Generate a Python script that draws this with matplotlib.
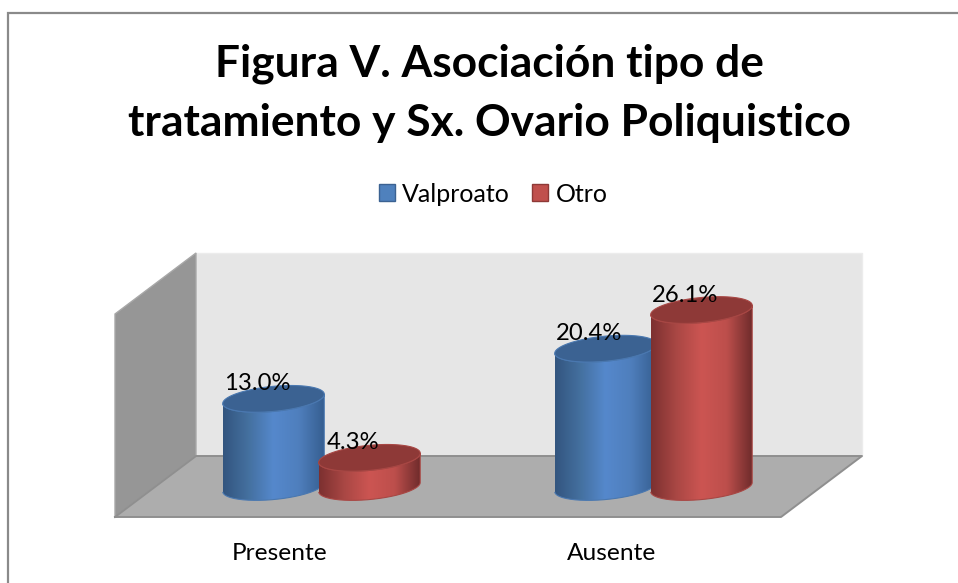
#!/usr/bin/env python3
"""Figura V: cylinders drawn by hand, matplotlib has no Excel-style 3D columns."""
import numpy as np
import matplotlib
matplotlib.use("Agg")
import matplotlib.pyplot as plt
from matplotlib.colors import LinearSegmentedColormap
from matplotlib.patches import Patch, PathPatch, Polygon
from matplotlib.path import Path

categories = ["Presente", "Ausente"]
series_names = ["Valproato", "Otro"]
valproato = [13.0, 20.4]
otro = [4.3, 26.1]
title_lines = ["Figura V. Asociación tipo de", "tratamiento y Sx. Ovario Poliquistico"]

W, H = 958, 583
PX_PER_PCT = 6.78    # pixels per percentage point
PX_PER_CAT = 332.0   # pixels between the two groups
X0_PX, Y0_PX = 321.5, 487.0   # pixel position of group 0, value 0
COL_W = 0.304        # column width, in category units
COL_OFF = 0.1445     # column offset from group centre
TILT = np.deg2rad(-5.5)
RX, RY = 51.0, 12.5  # ellipse radii in pixels

plt.rcParams["font.family"] = ["Lato", "DejaVu Sans"]

fig = plt.figure(figsize=(W / 100, H / 100), dpi=100, facecolor="white")

# background in pixel coordinates: frame and walls
bg = fig.add_axes([0, 0, 1, 1])
bg.set_xlim(0, W)
bg.set_ylim(H, 0)
bg.axis("off")
bg.plot([8.5, 8.5, W], [H, 12.5, 12.5], color="#8a8a8a", lw=1.6, solid_joinstyle="miter")
bg.add_patch(Polygon([(196, 253), (862, 253), (862, 456), (196, 456)], fc="#e6e6e6", ec="#ececec", lw=1))
bg.add_patch(Polygon([(115, 314), (196, 253), (196, 456), (115, 517)], fc="#969696", ec="#a8a8a8", lw=1))
bg.add_patch(Polygon([(196, 456), (862, 456), (781, 517), (115, 517)], fc="#adadad", ec="none"))
bg.plot([115, 196, 862, 781, 115], [517, 456, 456, 517, 517], color="#8f8f8f", lw=1.4)

# chart axes: x is category index, y is percent
ax = fig.add_axes([0, 0, 1, 1])
ax.patch.set_alpha(0)
ax.set_xlim(-X0_PX / PX_PER_CAT, (W - X0_PX) / PX_PER_CAT)
ax.set_ylim((Y0_PX - H) / PX_PER_PCT, Y0_PX / PX_PER_PCT)
ax.axis("off")


def ellipse_pts(cx, val, t):
    # tilted ellipse around (cx, val), radii given in pixels
    ex = RX * np.cos(t) * np.cos(TILT) - RY * np.sin(t) * np.sin(TILT)
    ey = RX * np.cos(t) * np.sin(TILT) + RY * np.sin(t) * np.cos(TILT)
    return cx + ex / PX_PER_CAT, val - ey / PX_PER_PCT


def draw_cylinder(cx, val, colors, top_color, rim_color, z):
    half = COL_W / 2
    # side: straight edges plus lower half of the base ellipse
    t = np.linspace(np.pi, 0, 80)
    bx, by = ellipse_pts(cx, 0, t)
    tx, ty = ellipse_pts(cx, val, t[::-1])
    xs = np.r_[bx, tx]
    ys = np.r_[by, ty]
    cmap = LinearSegmentedColormap.from_list("side", colors)
    grad = np.linspace(0, 1, 256).reshape(1, -1)
    im = ax.imshow(grad, cmap=cmap, aspect="auto", zorder=z,
                   extent=(cx - half, cx + half, ys.min() - 1, ys.max() + 1))
    side = PathPatch(Path(np.c_[xs, ys]), fc="none", ec=rim_color, lw=0.8, zorder=z + 0.1)
    ax.add_patch(side)
    im.set_clip_path(side)
    tt = np.linspace(0, 2 * np.pi, 120)
    ex, ey = ellipse_pts(cx, val, tt)
    ax.add_patch(Polygon(np.c_[ex, ey], fc=top_color, ec=rim_color, lw=0.8, zorder=z + 0.2))


blue_side = ["#33557f", "#44709f", "#5588cc", "#4f7fbd", "#365f91"]
red_side = ["#7c3030", "#a94744", "#cc5552", "#bd4f4c", "#702c2c"]
styles = [(valproato, -COL_OFF, blue_side, "#3b6292", "#4a78b0", "#4f81bd"),
          (otro, COL_OFF, red_side, "#8e3937", "#a84744", "#c0504d")]

for s, (values, off, side_cols, top_col, rim_col, _) in enumerate(styles):
    for i, val in enumerate(values):
        cx = i + off
        draw_cylinder(cx, val, side_cols, top_col, rim_col, 3 + s + i * 0.1)
        ax.text(cx - 16 / PX_PER_CAT, val + 15 / PX_PER_PCT, f"{val:.1f}%",
                ha="center", va="center", fontsize=17.2, color="black", zorder=10)

# category labels sit under the front edge of the floor
for i, name in enumerate(categories):
    ax.text(i - 41.5 / PX_PER_CAT, -66 / PX_PER_PCT, name, ha="center", va="center",
            fontsize=17.6, color="black")

fig.text(489 / W, 1 - 77 / H, title_lines[0], ha="center", va="baseline",
         fontsize=31.9, fontweight="bold", color="black")
fig.text(489 / W, 1 - 136 / H, title_lines[1], ha="center", va="baseline",
         fontsize=31.9, fontweight="bold", color="black")

handles = [Patch(fc=styles[k][5], ec=styles[k][3], lw=1, label=series_names[k]) for k in range(2)]
fig.legend(handles=handles, loc="center", bbox_to_anchor=(493 / W, 1 - 194 / H), ncol=2,
           frameon=False, fontsize=18, handlelength=0.64, handleheight=0.64,
           handletextpad=0.28, columnspacing=0.92)

fig.savefig("out.png", dpi=100)
